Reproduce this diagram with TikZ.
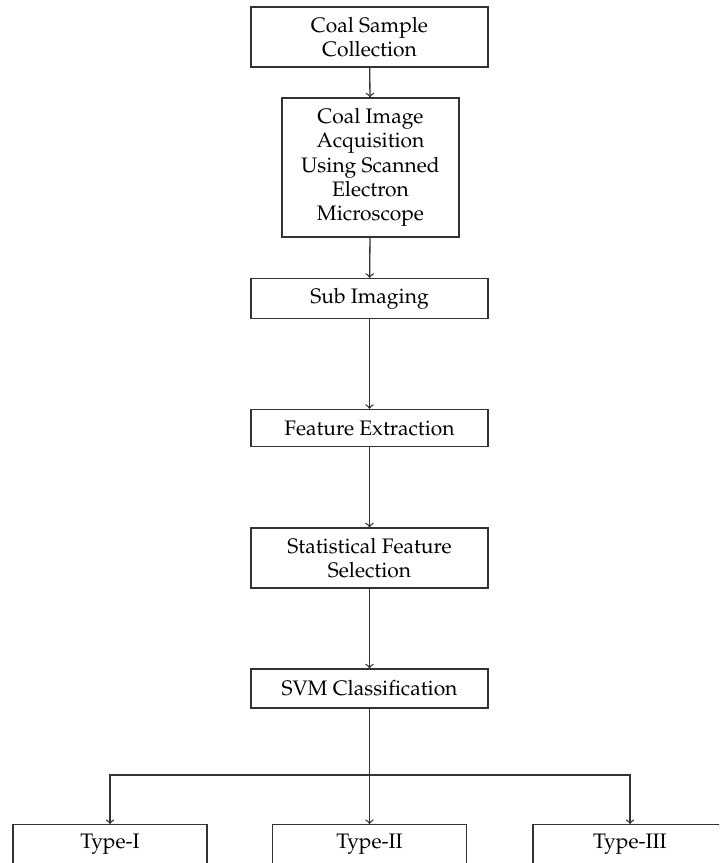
\documentclass[tikz,border=0pt]{standalone}
\usepackage[T1]{fontenc}
\usepackage{mathpazo}

\begin{document}
\begin{tikzpicture}[x=0.5pt, y=-0.5pt,
		stepbox/.style={draw=black!80, line width=0.65pt, align=center, inner sep=2pt,
			font=\fontsize{10.5}{12.1}\selectfont},
		typebox/.style={stepbox, anchor=north, minimum width=97pt, text height=8pt,
			text depth=40pt, inner ysep=4pt},
		flow/.style={draw=black!80, line width=0.65pt, ->}]
	\useasboundingbox (0, 0) rectangle (719, 863);
	\clip (0, 0) rectangle (719, 863);

	\node [stepbox, minimum width=118.5pt, minimum height=30pt] (coal) at (369.5, 37)
	{Coal Sample\\Collection};

	\node [stepbox, minimum width=88.5pt, minimum height=69.5pt] (acq) at (370.5, 167.5)
	{Coal Image\\Acquisition\\Using Scanned\\Electron\\Microscope};

	\node [stepbox, minimum width=118.5pt, minimum height=20pt] (sub) at (369.5, 298.5)
	{Sub Imaging};

	\node [stepbox, minimum width=118.5pt, minimum height=18.5pt] (feat) at (369.5, 428)
	{Feature Extraction};

	\node [stepbox, minimum width=118.5pt, minimum height=30pt] (stat) at (369.5, 558)
	{Statistical Feature\\Selection};

	\node [stepbox, minimum width=118.5pt, minimum height=19.5pt] (svm) at (369.5, 688.5)
	{SVM Classification};

	% three classes, cut off at the bottom
	\node [typebox] (t1) at (110, 824) {Type-I};
	\node [typebox] (t2) at (369.5, 824) {Type-II};
	\node [typebox] (t3) at (630, 824) {Type-III};

	\coordinate (br) at (369.5, 775);

	\draw [flow] (coal) -- (acq);
	\draw [flow] (acq) -- (sub);
	\draw [flow] (sub) -- (feat);
	\draw [flow] (feat) -- (stat);
	\draw [flow] (stat) -- (svm);
	\draw [flow, -] (svm) -- (br);
	\draw [flow] (br) -| (t1.north);
	\draw [flow] (br) -- (t2.north);
	\draw [flow] (br) -| (t3.north);
\end{tikzpicture}
\end{document}
